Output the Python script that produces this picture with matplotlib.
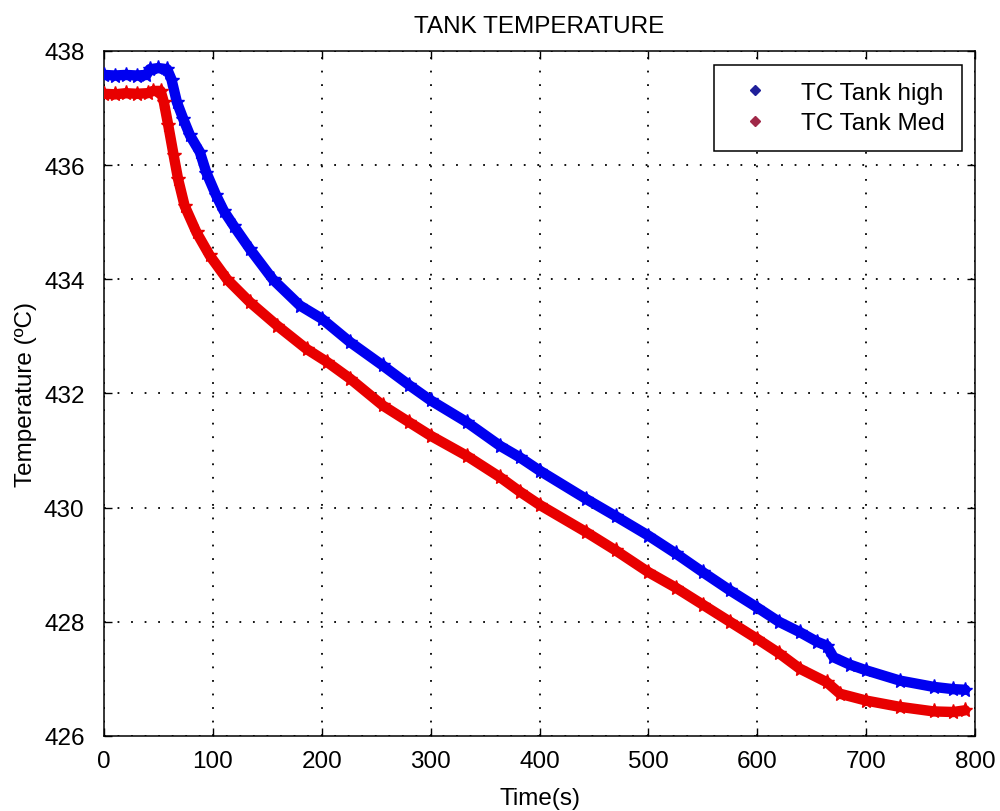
import matplotlib
matplotlib.use("Agg")
import matplotlib.pyplot as plt
from matplotlib.lines import Line2D

# Tank thermocouple readings
time_high = [0, 10, 20, 30, 39, 42, 50, 58, 62, 67, 73, 79, 88, 94, 103, 110,
             119, 134, 155, 180, 200, 226, 256, 280, 300, 333, 364, 382, 400,
             443, 470, 500, 525, 550, 575, 600, 620, 639, 655, 664, 670, 685,
             700, 731, 762, 780, 791]
temp_high = [437.58, 437.57, 437.58, 437.57, 437.58, 437.68, 437.70, 437.68,
             437.50, 437.10, 436.80, 436.52, 436.23, 435.87, 435.47, 435.20,
             434.94, 434.53, 434.00, 433.54, 433.31, 432.90, 432.49, 432.15,
             431.88, 431.50, 431.08, 430.88, 430.65, 430.15, 429.85, 429.51,
             429.20, 428.87, 428.55, 428.25, 428.00, 427.82, 427.65, 427.58,
             427.38, 427.25, 427.15, 426.97, 426.86, 426.82, 426.81]

time_med = [0, 10, 20, 30, 40, 45, 52, 55, 59, 64, 68, 74, 85, 97, 113, 134,
            159, 186, 205, 226, 256, 280, 300, 333, 364, 382, 400, 443, 470,
            500, 525, 550, 575, 600, 620, 639, 664, 676, 700, 731, 762, 780, 791]
temp_med = [437.25, 437.24, 437.26, 437.25, 437.26, 437.30, 437.30, 437.10,
            436.70, 436.17, 435.76, 435.29, 434.82, 434.42, 434.00, 433.60,
            433.19, 432.78, 432.55, 432.26, 431.79, 431.50, 431.26, 430.91,
            430.53, 430.28, 430.05, 429.57, 429.25, 428.87, 428.60, 428.30,
            428.00, 427.70, 427.45, 427.18, 426.94, 426.74, 426.62, 426.51,
            426.43, 426.42, 426.45]

labels = ["TC Tank high", "TC Tank Med"]
x_ticks = [0, 100, 200, 300, 400, 500, 600, 700, 800]
y_ticks = [426, 428, 430, 432, 434, 436, 438]

plt.rcParams["font.family"] = ["Liberation Sans", "DejaVu Sans"]
FS = 17.5

fig = plt.figure(figsize=(10, 8.12), dpi=100)
ax = fig.add_axes([0.104, 0.0924, 0.871, 0.8436])

blue = "#0000f0"
red = "#e80000"
ax.plot(time_high, temp_high, color=blue, lw=7.5, marker="*", ms=11,
        solid_joinstyle="round", solid_capstyle="round", zorder=3)
ax.plot(time_med, temp_med, color=red, lw=7.5, marker="*", ms=11,
        solid_joinstyle="round", solid_capstyle="round", zorder=3)

ax.set_xlim(0, 800)
ax.set_ylim(426, 438)
ax.set_xticks(x_ticks)
ax.set_yticks(y_ticks)
ax.set_xticklabels([str(v) for v in x_ticks])
ax.set_yticklabels([str(v) for v in y_ticks])
ax.tick_params(direction="in", length=6, width=1.0, labelsize=FS,
               top=True, right=True, pad=10, colors="black")
ax.tick_params(axis="y", pad=14)
for s in ax.spines.values():
    s.set_linewidth(1.1)
    s.set_color("black")

ax.grid(True, color="black", linestyle=(0, (1, 6.5)), linewidth=1.3)
ax.set_axisbelow(True)

ax.set_title("TANK TEMPERATURE", fontsize=FS, pad=14)
ax.set_xlabel("Time(s)", fontsize=FS, labelpad=11)
ax.set_ylabel("Temperature (ºC)", fontsize=FS, labelpad=5)

handles = [Line2D([], [], ls="none", marker="D", ms=5, color="#20209a"),
           Line2D([], [], ls="none", marker="D", ms=5, color="#a02848")]
leg = ax.legend(handles, labels, loc="upper right",
                bbox_to_anchor=(0.985, 0.980), fontsize=FS, frameon=True,
                fancybox=False, edgecolor="black", framealpha=1,
                borderpad=0.7, labelspacing=0.35, handlelength=2.0,
                handletextpad=0.9, borderaxespad=0)
leg.get_frame().set_linewidth(1.1)

fig.savefig("out.png", dpi=100)
